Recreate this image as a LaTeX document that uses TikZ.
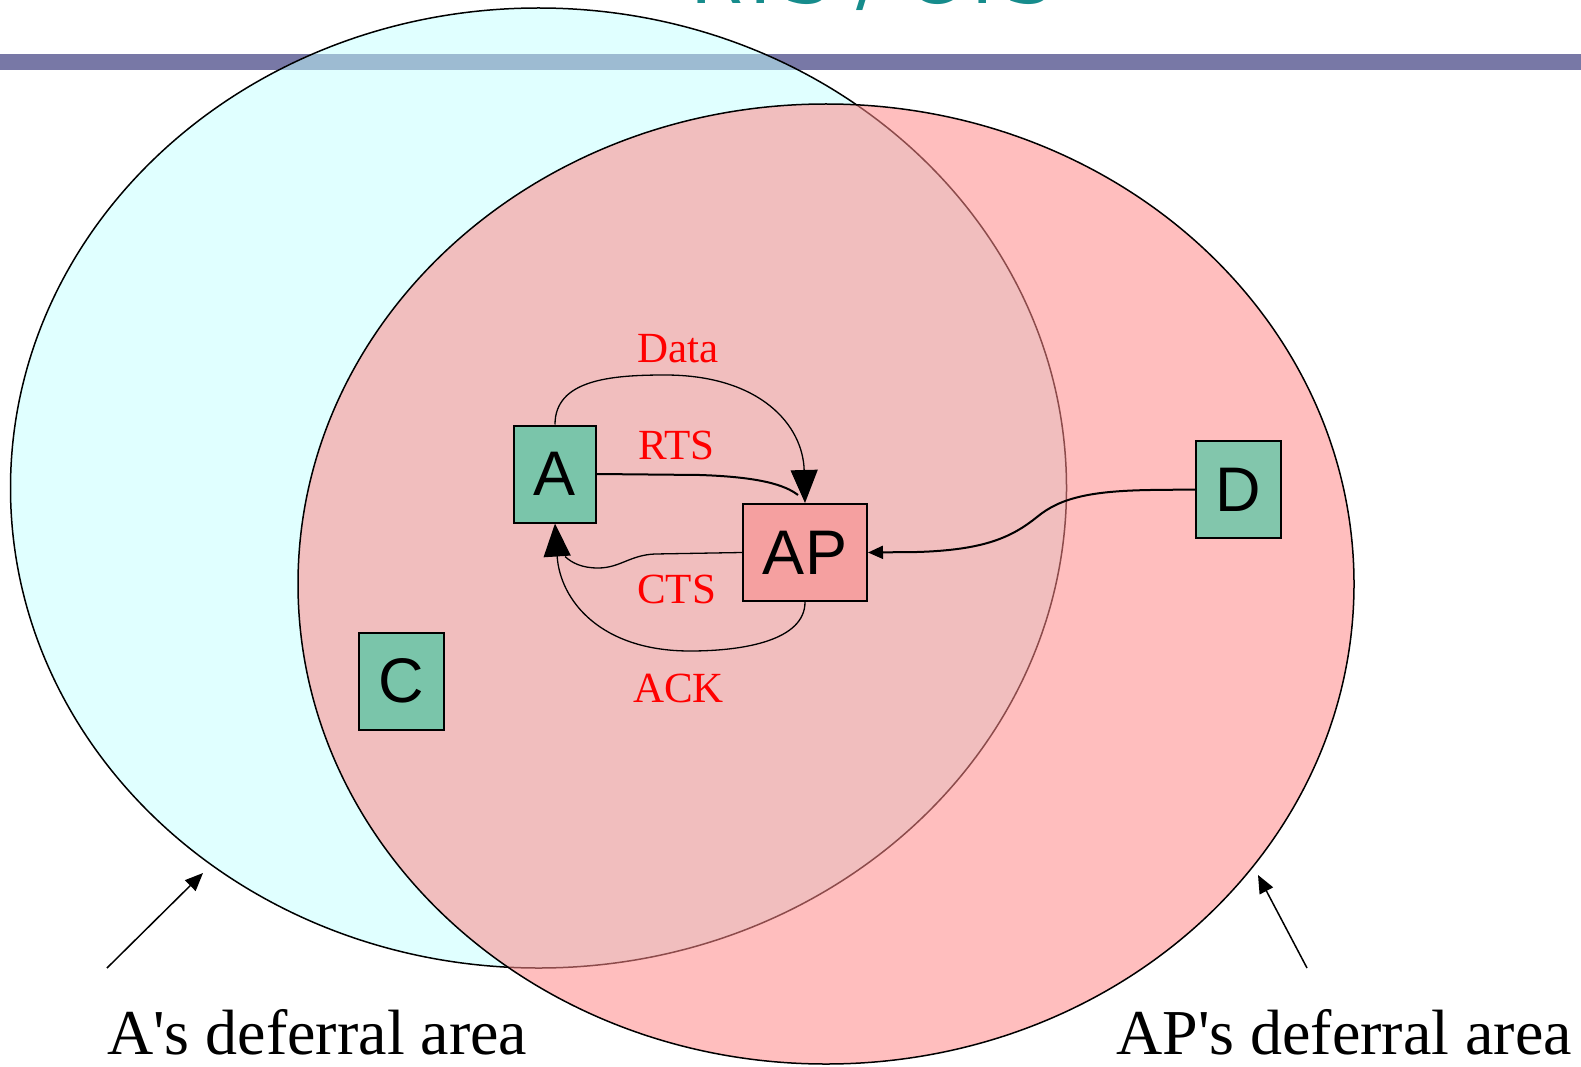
\documentclass[tikz,border=0pt]{standalone}
\usepackage{fontspec}
\usetikzlibrary{arrows.meta,calc}
\newfontfamily\stationfont{Liberation Sans}
\newfontfamily\labelfont{Liberation Serif}
\newfontfamily\titlefont{DejaVu Sans}
\definecolor{rulebar}{RGB}{120,120,166}
\definecolor{areaA}{RGB}{194,255,255}
\definecolor{areaAP}{RGB}{255,137,137}
\definecolor{stationgreen}{RGB}{122,197,170}
\definecolor{stationD}{RGB}{130,198,172}
\definecolor{apfill}{RGB}{245,160,160}
\definecolor{titleteal}{RGB}{22,140,140}
\tikzset{
  station/.style={draw=black, line width=2pt, inner sep=0pt,
    minimum height=97pt, font=\stationfont\fontsize{63}{63}\selectfont},
  msg/.style={text=red, inner sep=0pt, anchor=base,
    font=\labelfont\fontsize{43}{43}\selectfont},
  caption/.style={inner sep=0pt, anchor=base west,
    font=\labelfont\fontsize{64}{64}\selectfont},
  bigtip/.style={-{Triangle[length=33pt,width=27pt]}},
  smalltip/.style={-{Triangle[length=15pt,width=13pt]}},
  pointer/.style={-{Triangle[length=18pt,width=15pt]}, line width=1.5pt},
}
\begin{document}
\begin{tikzpicture}[x=1pt,y=-1pt]
\useasboundingbox (0,0) rectangle (1581,1067);
\clip (0,0) rectangle (1581,1067);
\fill[white] (0,0) rectangle (1581,1067);

% slide title (runs off the top edge) and header rule
\node[text=titleteal, inner sep=0pt, anchor=base,
  font=\titlefont\fontsize{76}{76}\selectfont] (title) at (872,4) {RTS / CTS};
\fill[rulebar] (0,54) rectangle (1581,70);

% deferral areas
\draw[line width=1.5pt, fill=areaA, fill opacity=0.5] (538.5,488) ellipse [x radius=528, y radius=480];
\draw[line width=1.5pt, fill=areaAP, fill opacity=0.55] (826,584) ellipse [x radius=528, y radius=480];

% stations
\node[station, fill=stationgreen, minimum width=82pt] (A) at (555,474) {A};
\node[station, fill=apfill, minimum width=124pt] (AP) at (805,552.5) {AP};
\node[station, fill=stationgreen, minimum width=85pt] (C) at (401,681) {C};
\node[station, fill=stationD, minimum width=85pt] (D) at (1238.5,489.5) {D};

% message exchange
\draw[bigtip, line width=1.3pt] (A.north) .. controls (555,380) and (610,375) .. (665,375)
  .. controls (760,375) and (803,425) .. (AP.north);
\draw[line width=2pt] (A.east |- 0,474) -- (700,475) .. controls (760,477) and (785,485) .. ($(AP.north)+(-7,-8)$);
\draw[line width=1.3pt] (AP.west) -- (655,554) .. controls (630,555) and (620,568) .. (598,568)
  .. controls (582,568) and (572,563) .. ($(A.south)+(10,33)$);
\draw[bigtip, line width=1.3pt] (AP.south) .. controls (805,640) and (745,651) .. (690,651)
  .. controls (600,651) and (560,600) .. (A.south);
\draw[smalltip, line width=2pt] (D.west) -- (1150,490) .. controls (1090,491) and (1060,498) .. (1037,517)
  .. controls (1012,537) and (985,550) .. (917,552) -- (AP.east);

\node[msg] (data) at (678,362) {Data};
\node[msg] (rts) at (676.5,459) {RTS};
\node[msg] (cts) at (676.5,603) {CTS};
\node[msg] (ack) at (678.5,702) {ACK};

% area captions with pointers
\coordinate (pA) at (107,968);
\coordinate (pAtip) at (203,873);
\coordinate (pAP) at (1307,968);
\coordinate (pAPtip) at (1258,875);
\draw[pointer] (pA) -- (pAtip);
\draw[pointer] (pAP) -- (pAPtip);
\node[caption] (capA) at (107,1054) {A's deferral area};
\node[caption] (capAP) at (1116,1054) {AP's deferral area};
\end{tikzpicture}
\end{document}
